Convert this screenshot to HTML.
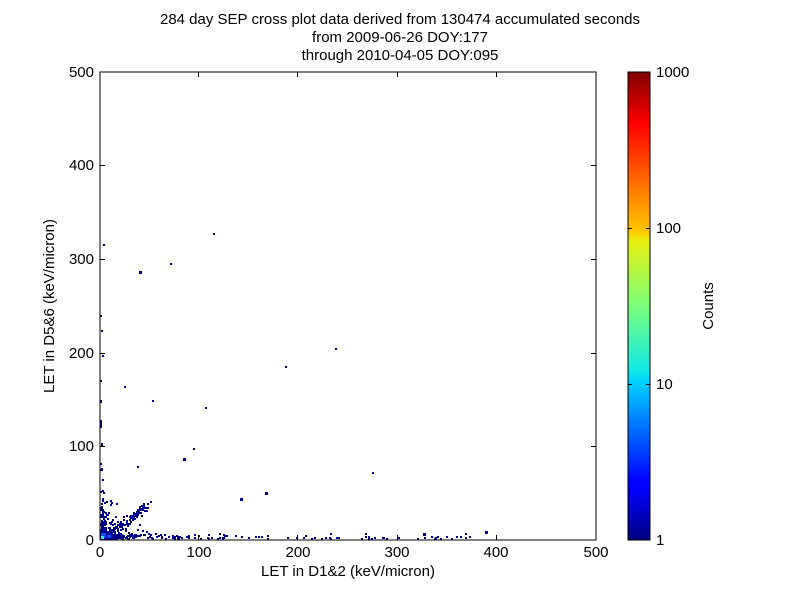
<!DOCTYPE html><html><head><style>body{margin:0;background:#fff}svg{display:block}text{font-family:"Liberation Sans",sans-serif}</style></head><body>
<svg id="s" width="800" height="600" xmlns="http://www.w3.org/2000/svg">
<defs><linearGradient id="jet" x1="0" y1="1" x2="0" y2="0">
<stop offset="0" stop-color="#00007f"/><stop offset="0.11" stop-color="#0000ff"/><stop offset="0.125" stop-color="#0000ff"/><stop offset="0.34" stop-color="#00d4ff"/><stop offset="0.36" stop-color="#0fe8e8"/><stop offset="0.5" stop-color="#7bff7b"/><stop offset="0.64" stop-color="#e8f00f"/><stop offset="0.66" stop-color="#ffc800"/><stop offset="0.89" stop-color="#ff0000"/><stop offset="1" stop-color="#7f0000"/></linearGradient></defs>
<text x="400" y="24" font-size="15" text-anchor="middle">284 day SEP cross plot data derived from 130474 accumulated seconds</text>
<text x="400" y="42" font-size="15" text-anchor="middle">from 2009-06-26 DOY:177</text>
<text x="400" y="60" font-size="15" text-anchor="middle">through 2010-04-05 DOY:095</text>
<g id="pts" fill="#00008f">
<rect x="139" y="271" width="3" height="3"/><rect x="213" y="233" width="2" height="2"/><rect x="170" y="263" width="2" height="2"/><rect x="285" y="366" width="2" height="2"/><rect x="335" y="348" width="2" height="2"/><rect x="103" y="244" width="2" height="2"/><rect x="124" y="386" width="2" height="2"/><rect x="152" y="400" width="2" height="2"/><rect x="205" y="407" width="2" height="2"/><rect x="240" y="498" width="3" height="3"/><rect x="265" y="492" width="3" height="3"/><rect x="372" y="472" width="2" height="2"/><rect x="183" y="458" width="3" height="3"/><rect x="193" y="448" width="2" height="2"/><rect x="137" y="466" width="2" height="2"/><rect x="102" y="355" width="2" height="2"/><rect x="101" y="330" width="2" height="2"/><rect x="100" y="315" width="2" height="2"/><rect x="100" y="400" width="2" height="3"/><rect x="100" y="380" width="2" height="2"/><rect x="100" y="420" width="2" height="8"/><rect x="101" y="443" width="2" height="3"/><rect x="101" y="468" width="2" height="3"/><rect x="485" y="531" width="3" height="3"/><rect x="423" y="533" width="3" height="3"/><rect x="330" y="533" width="2" height="2"/><rect x="465" y="533" width="2" height="2"/><rect x="365" y="533" width="2" height="2"/>
</g>
<rect x="100" y="72" width="496" height="468" fill="none" stroke="#000" stroke-width="1"/>
<g stroke="#000"><path d="M198.5 540v-5M297.5 540v-5M397.5 540v-5M496.5 540v-5M198.5 72v5M297.5 72v5M397.5 72v5M496.5 72v5M100 446.5h5M100 353.5h5M100 259.5h5M100 165.5h5M596 446.5h-5M596 353.5h-5M596 259.5h-5M596 165.5h-5"/></g>
<g font-size="15" text-anchor="middle"><text x="100" y="557">0</text><text x="199" y="557">100</text><text x="298" y="557">200</text><text x="397" y="557">300</text><text x="496" y="557">400</text><text x="596" y="557">500</text></g>
<g font-size="15" text-anchor="end"><text x="94" y="545">0</text><text x="94" y="451">100</text><text x="94" y="358">200</text><text x="94" y="264">300</text><text x="94" y="170">400</text><text x="94" y="77">500</text></g>
<text x="348" y="576" font-size="15" text-anchor="middle">LET in D1&amp;2 (keV/micron)</text>
<text transform="translate(54 306) rotate(-90)" font-size="15" text-anchor="middle">LET in D5&amp;6 (keV/micron)</text>
<rect x="628" y="72" width="22" height="468" fill="url(#jet)" stroke="#000"/>
<g stroke="#000"><path d="M650 384.5h-4M650 228.5h-4M628 384.5h4M628 228.5h4"/></g>
<g font-size="15"><text x="656" y="545">1</text><text x="656" y="389">10</text><text x="656" y="233">100</text><text x="656" y="77">1000</text></g>
<text transform="translate(713 306) rotate(-90)" font-size="15" text-anchor="middle">Counts</text>
</svg>
<script>
(function(){var s=12345;function r(){s=(s*1103515245+12345)%2147483648;return s/2147483648;}
var g=document.getElementById('pts'),ns='http://www.w3.org/2000/svg';
function add(x,y,c,w,h){var e=document.createElementNS(ns,'rect');e.setAttribute('x',x.toFixed(0));e.setAttribute('y',y.toFixed(0));e.setAttribute('width',w||2);e.setAttribute('height',h||2);if(c)e.setAttribute('fill',c);g.appendChild(e);}
var i,x,y;
// near origin cloud
for(i=0;i<260;i++){x=-Math.log(r())*9;y=-Math.log(r())*7;add(100+x,538-y);}
// diagonal
for(i=0;i<90;i++){var t=r()*40;x=5+t+r()*6;y=t*0.75+r()*8;add(100+x,538-y);}
// along y axis
for(i=0;i<70;i++){y=-Math.log(r())*18;add(100+r()*3,538-y);}
// along x axis
for(i=0;i<120;i++){x=-Math.log(r())*35;add(100+x,538-r()*5);}
for(i=0;i<60;i++){x=60+r()*330;add(100+x,538-r()*2);}
add(101,533,'#0050ff',5,5);add(107,535,'#0050ff',4,3);add(101,536,'#30f0c0',3,3);
})();
</script>
</body></html>
